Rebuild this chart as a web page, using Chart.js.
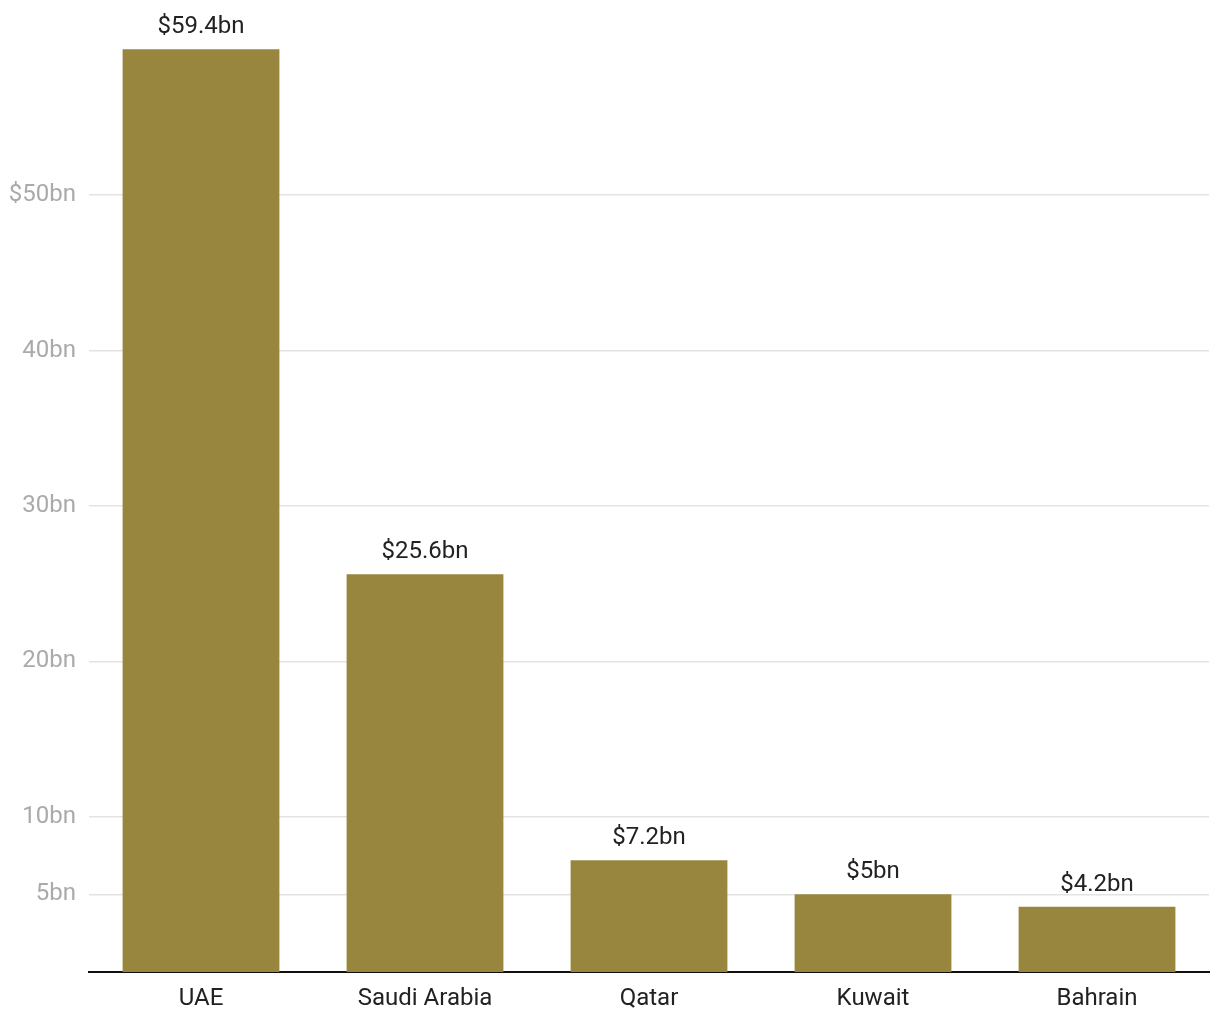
<!DOCTYPE html>
<html>
<head>
<meta charset="utf-8">
<style>
  html, body { margin: 0; padding: 0; background: #ffffff; }
  #wrap { width: 1220px; height: 1020px; position: relative; }
</style>
<script src="https://cdn.jsdelivr.net/npm/chart.js@4/dist/chart.umd.min.js"></script>
</head>
<body>
<div id="wrap"><canvas id="c"></canvas></div>
<script>
const categories = ["UAE", "Saudi Arabia", "Qatar", "Kuwait", "Bahrain"];
const values = [59.4, 25.6, 7.2, 5, 4.2];
const valueLabels = ["$59.4bn", "$25.6bn", "$7.2bn", "$5bn", "$4.2bn"];
const tickValues = [5, 10, 20, 30, 40, 50];
const tickLabels = ["5bn", "10bn", "20bn", "30bn", "40bn", "$50bn"];

const FONT = "Roboto, 'Noto Sans', sans-serif";

const labelPlugin = {
  id: 'barLabels',
  afterDatasetsDraw(chart) {
    const ctx = chart.ctx;
    const meta = chart.getDatasetMeta(0);
    ctx.save();
    ctx.font = "24px " + FONT;
    ctx.fillStyle = "#222222";
    ctx.textAlign = "center";
    ctx.textBaseline = "alphabetic";
    meta.data.forEach((bar, i) => {
      ctx.fillText(valueLabels[i], bar.x, bar.y - 16);
    });
    ctx.restore();
  }
};

new Chart(document.getElementById('c'), {
  type: 'bar',
  data: {
    labels: categories,
    datasets: [{
      data: values,
      backgroundColor: '#98863F',
      borderWidth: 0,
      categoryPercentage: 1.0,
      barPercentage: 0.7
    }]
  },
  options: {
    responsive: true,
    maintainAspectRatio: false,
    animation: false,
    layout: { padding: { top: 6, right: 11, bottom: 0, left: 0 } },
    plugins: {
      legend: { display: false },
      tooltip: { enabled: false }
    },
    scales: {
      x: {
        grid: { display: false, drawTicks: false },
        border: { display: true, color: '#111111', width: 2 },
        ticks: {
          color: '#222222',
          font: { family: FONT, size: 24 },
          padding: 13,
          maxRotation: 0
        },
        afterFit(axis) { axis.height = 48; }
      },
      y: {
        min: 0,
        max: 60.8,
        grid: { color: '#e3e3e3', lineWidth: 1.5, drawTicks: false },
        border: { display: false },
        ticks: {
          color: '#aaaaaa',
          font: { family: FONT, size: 24 },
          padding: 13,
          callback(value) {
            const i = tickValues.indexOf(value);
            return i >= 0 ? tickLabels[i] : '';
          }
        },
        afterBuildTicks(axis) {
          axis.ticks = tickValues.map(v => ({ value: v }));
        },
        afterFit(axis) { axis.width = 89; }
      }
    }
  },
  plugins: [labelPlugin]
});
</script>
</body>
</html>
